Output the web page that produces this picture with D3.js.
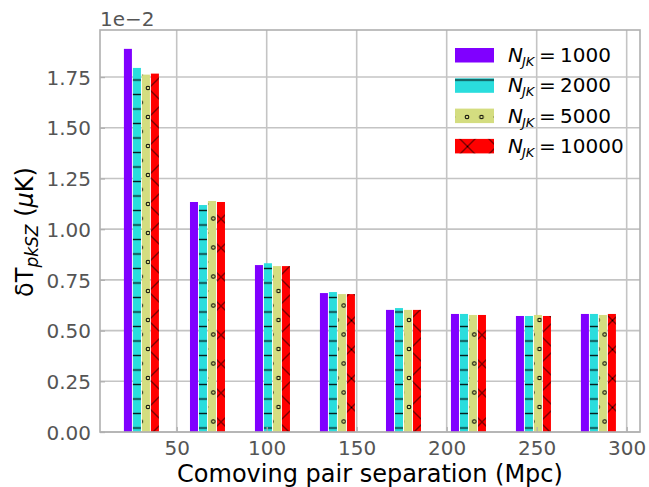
<!DOCTYPE html>
<html>
<head>
<meta charset="utf-8">
<script src="https://cdn.jsdelivr.net/npm/d3@7"></script>
<style>
    body { margin: 0; background: #fff; }
    svg { display: block; font-family: "DejaVu Sans", sans-serif; }
</style>
</head>
<body>
<svg class="chart"></svg>
<script>
(function () {
    // pair separation bins (Mpc), group centres
    const separations = [30.4, 67.1, 103.2, 139.3, 176.0, 212.1, 248.2, 284.3];
    const seriesNames = ["1000", "2000", "5000", "10000"];
    // values in units of 1e-2 muK
    const nJK1000 = [1.889, 1.134, 0.823, 0.685, 0.602, 0.582, 0.572, 0.582];
    const nJK2000 = [1.795, 1.119, 0.832, 0.690, 0.611, 0.582, 0.572, 0.582];
    const nJK5000 = [1.762, 1.139, 0.818, 0.680, 0.602, 0.577, 0.577, 0.577];
    const nJK10000 = [1.767, 1.134, 0.818, 0.680, 0.602, 0.577, 0.572, 0.582];
    const xTicks = [50, 100, 150, 200, 250, 300];
    const yTicks = [0, 0.25, 0.5, 0.75, 1.0, 1.25, 1.5, 1.75];

    const seriesValues = [nJK1000, nJK2000, nJK5000, nJK10000];
    const colours = ["#8000ff", "#2adddd", "#d4dd80", "#ff0000"];
    const hatches = [null, "url(#hatch-line)", "url(#hatch-dot)", "url(#hatch-cross)"];

    const width = 649, height = 487;
    const margin = { left: 100, top: 30, right: 9, bottom: 55 };
    const barStep = 5, barWidth = 4.45;
    const gridColour = "#c4c4c4", spineColour = "#b0b0b0", labelColour = "#555";

    let svg = d3.select("svg.chart")
        .attr("width", width)
        .attr("height", height);

    let x = d3.scaleLinear()
        .domain([7.39, 307.4])
        .range([margin.left, width - margin.right]);
    let y = d3.scaleLinear()
        .domain([0, 1.982])
        .range([height - margin.bottom, margin.top]);

    // Hatch patterns, fixed to the figure like matplotlib hatching
    let defs = svg.append("defs");
    let pLine = defs.append("pattern")
        .attr("id", "hatch-line")
        .attr("patternUnits", "userSpaceOnUse")
        .attr("x", 0).attr("y", 80 - 7.25)
        .attr("width", 14.5).attr("height", 14.5);
    pLine.append("line")
        .attr("x1", -1).attr("x2", 16).attr("y1", 7.25).attr("y2", 7.25)
        .attr("stroke", "#000").attr("stroke-opacity", 0.85).attr("stroke-width", 1.4);

    let pDot = defs.append("pattern")
        .attr("id", "hatch-dot")
        .attr("patternUnits", "userSpaceOnUse")
        .attr("x", 148).attr("y", 88)
        .attr("width", 14.5).attr("height", 29);
    [[0, 0], [14.5, 0], [0, 29], [14.5, 29], [7.25, 14.5]].forEach(function (c) {
        pDot.append("circle")
            .attr("cx", c[0]).attr("cy", c[1]).attr("r", 1.8)
            .attr("fill", "none").attr("stroke", "#000").attr("stroke-width", 1);
    });

    let pCross = defs.append("pattern")
        .attr("id", "hatch-cross")
        .attr("patternUnits", "userSpaceOnUse")
        .attr("x", 221 - 14.5).attr("y", 219 - 14.5)
        .attr("width", 29).attr("height", 29);
    pCross.append("path")
        .attr("d", "M-2,-2L31,31M31,-2L-2,31")
        .attr("stroke", "#000").attr("stroke-width", 1).attr("fill", "none");

    // Grid
    svg.append("g").selectAll("line.gx")
        .data(xTicks).enter().append("line")
        .attr("x1", function (d) { return x(d); })
        .attr("x2", function (d) { return x(d); })
        .attr("y1", margin.top).attr("y2", height - margin.bottom)
        .attr("stroke", gridColour).attr("stroke-width", 1.6);
    svg.append("g").selectAll("line.gy")
        .data(yTicks).enter().append("line")
        .attr("x1", margin.left).attr("x2", width - margin.right)
        .attr("y1", function (d) { return y(d); })
        .attr("y2", function (d) { return y(d); })
        .attr("stroke", gridColour).attr("stroke-width", 1.6);

    // Bars
    seriesValues.forEach(function (vals, i) {
        let g = svg.append("g").attr("class", "series-" + i);
        let rows = vals.map(function (v, j) {
            return { x: separations[j] + (i - 1.5) * barStep, v: v };
        });
        let fills = [colours[i]];
        if (hatches[i]) fills.push(hatches[i]);
        fills.forEach(function (f) {
            g.selectAll(null)
                .data(rows).enter().append("rect")
                .attr("x", function (d) { return x(d.x - barWidth / 2); })
                .attr("width", function (d) { return x(d.x + barWidth / 2) - x(d.x - barWidth / 2); })
                .attr("y", function (d) { return y(d.v); })
                .attr("height", function (d) { return y(0) - y(d.v); })
                .attr("fill", f);
        });
    });

    // Frame
    svg.append("rect")
        .attr("x", margin.left).attr("y", margin.top)
        .attr("width", width - margin.right - margin.left)
        .attr("height", height - margin.bottom - margin.top)
        .attr("fill", "none").attr("stroke", spineColour).attr("stroke-width", 1.6);

    // Axes, ticks pointing inward
    let xAxis = svg.append("g")
        .attr("transform", "translate(0," + (height - margin.bottom) + ")")
        .call(d3.axisBottom(x).tickValues(xTicks).tickSizeInner(-5).tickSizeOuter(0).tickPadding(9));
    let yAxis = svg.append("g")
        .attr("transform", "translate(" + margin.left + ",0)")
        .call(d3.axisLeft(y).tickValues(yTicks).tickSizeInner(-5).tickSizeOuter(0).tickPadding(9)
            .tickFormat(d3.format(".2f")));
    [xAxis, yAxis].forEach(function (a) {
        a.select(".domain").remove();
        a.selectAll(".tick line").attr("stroke", spineColour).attr("stroke-width", 1.3);
        a.selectAll(".tick text")
            .attr("fill", labelColour)
            .style("font-family", "DejaVu Sans")
            .style("font-size", "20px");
    });
    yAxis.selectAll(".tick text").attr("dy", "0.36em");
    xAxis.selectAll(".tick text").attr("dy", "0.72em");

    // Offset text
    svg.append("text")
        .attr("x", margin.left).attr("y", 26)
        .attr("fill", labelColour)
        .style("font-size", "20px")
        .text("1e\u22122");

    // Axis labels
    svg.append("text")
        .attr("x", 370).attr("y", 482)
        .attr("text-anchor", "middle")
        .style("font-size", "24px")
        .text("Comoving pair separation (Mpc)");

    let yLabel = svg.append("text")
        .attr("transform", "translate(33,232) rotate(-90)")
        .attr("text-anchor", "middle")
        .style("font-size", "24px");
    yLabel.append("tspan").text("\u03b4T");
    yLabel.append("tspan").attr("dy", 5).style("font-style", "italic").style("font-size", "17px").text("pkSZ");
    yLabel.append("tspan").attr("dy", -5).text(" (");
    yLabel.append("tspan").style("font-style", "italic").text("\u03bc");
    yLabel.append("tspan").text("K)");

    // Legend
    let legend = svg.append("g").attr("class", "legend");
    seriesNames.forEach(function (name, i) {
        const top = 48 + i * 30.3;
        legend.append("rect")
            .attr("x", 455).attr("y", top).attr("width", 39).attr("height", 14.5)
            .attr("fill", colours[i]);
        if (hatches[i]) {
            legend.append("rect")
                .attr("x", 455).attr("y", top).attr("width", 39).attr("height", 14.5)
                .attr("fill", hatches[i]);
        }
        let t = legend.append("text")
            .attr("y", top + 14)
            .style("font-size", "20px");
        t.append("tspan").attr("x", 508).style("font-style", "italic").text("N");
        t.append("tspan").attr("x", 522).attr("dy", 4).style("font-style", "italic").style("font-size", "13px").text("JK");
        t.append("tspan").attr("x", 539).attr("dy", -4).text("=");
        t.append("tspan").attr("x", 560).text(name);
    });
}());
</script>
</body>
</html>
